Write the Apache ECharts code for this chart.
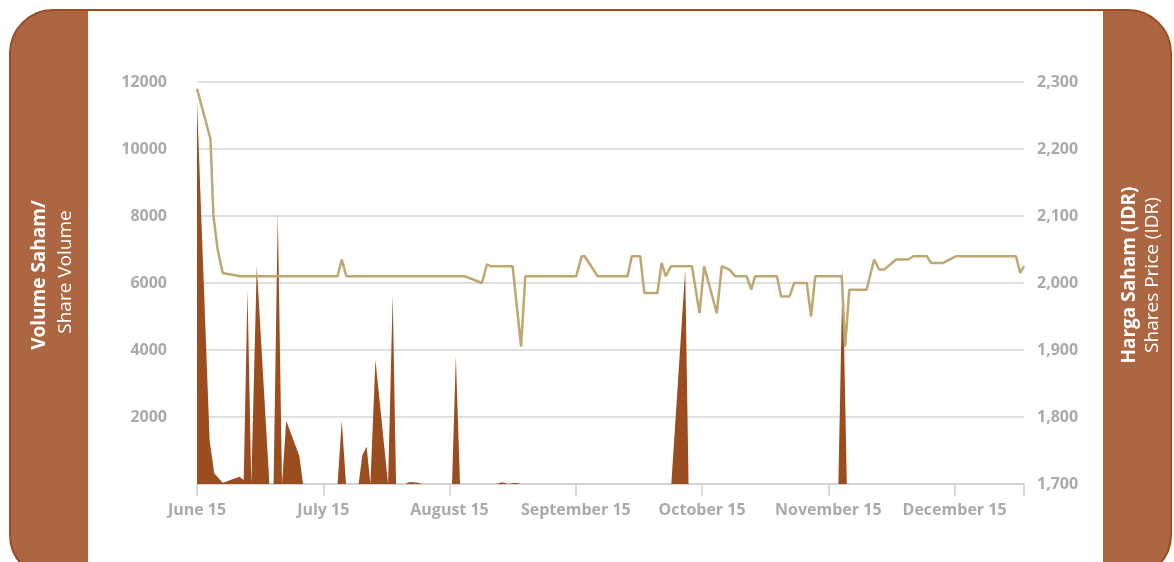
<!DOCTYPE html>
<html>
<head>
<meta charset="utf-8">
<script src="https://cdn.jsdelivr.net/npm/echarts@6/dist/echarts.min.js"></script>
<style>
  html, body { margin: 0; padding: 0; width: 1174px; height: 562px; overflow: hidden; background: #fff; }
  #frame {
    position: absolute; left: 9px; top: 9px; width: 1163px; height: 570px;
    box-sizing: border-box; border: 2px solid #9d4b20; border-radius: 44px; background: #ac6641;
  }
  #inner { position: absolute; left: 88px; top: 11px; width: 1015px; height: 560px; background: #fff; }
  #chart { position: absolute; left: 0; top: 0; width: 1174px; height: 562px; }
</style>
</head>
<body>
<div id="frame"></div>
<div id="inner"></div>
<div id="chart"></div>
<script>
// posisi hari (30 hari per bulan, 0 = June 15)
const xTickLabels = ['June 15', 'July 15', 'August 15', 'September 15', 'October 15', 'November 15', 'December 15'];

// volume saham
const volumeDays = [0, 3, 4.1, 6.1, 10.1, 11.1, 12, 12.9, 13.1, 14.2, 17.2, 18.2, 19.2, 20.2, 21.2, 24.3, 25.2,
  33.4, 34.4, 35.4, 38.4, 39.3, 40.3, 41.2, 42.4, 45.4, 46.5, 47.3, 49.5, 50.5, 52.5, 53.5,
  60.6, 61.5, 62.5, 71, 72.5, 74, 75.5, 77, 112.7, 116, 116.8, 152.4, 153.4, 154.4, 196.5];
const volumeValues = [11400, 1300, 320, 40, 220, 120, 5790, 0, 0, 6500, 0, 0, 8080, 0, 1890, 840, 0,
  0, 1890, 0, 0, 865, 1115, 0, 3700, 0, 5640, 0, 0, 60, 40, 0,
  0, 3800, 0, 0, 50, 0, 40, 0, 0, 6390, 0, 0, 6450, 0, 0];

// harga saham (IDR)
const priceDays = [0, 3.2, 3.9, 4.9, 6.1, 10.3, 33.4, 34.4, 35.5, 63.7, 67.7, 68.9, 69.8, 75, 77, 78, 90.1,
  91.4, 92.1, 95.2, 102.3, 103.3, 105.3, 106.3, 109.4, 110.4, 111.4, 112.6, 117.6, 119.4, 120.5,
  123.5, 124.7, 126.5, 127.9, 130.6, 131.7, 132.6, 137.8, 138.8, 140.8, 141.9, 144.9, 145.9, 146.9,
  153.2, 154, 155, 159.1, 160.9, 162.1, 163.3, 166.1, 169, 170.2, 173.4, 174.4, 177.3, 180.4,
  194.6, 195.6, 196.5];
const priceValues = [2290, 2215, 2100, 2050, 2015, 2010, 2010, 2035, 2010, 2010, 2000, 2028, 2025, 2025, 1905, 2010, 2010,
  2040, 2040, 2010, 2010, 2040, 2040, 1985, 1985, 2030, 2010, 2025, 2025, 1955, 2025,
  1955, 2025, 2020, 2010, 2010, 1990, 2010, 2010, 1980, 1980, 2000, 2000, 1950, 2010,
  2010, 1905, 1990, 1990, 2035, 2020, 2020, 2035, 2035, 2040, 2040, 2030, 2030, 2040,
  2040, 2015, 2025];

const volumeData = volumeDays.map((d, i) => [d, volumeValues[i]]);
const priceData = priceDays.map((d, i) => [d, priceValues[i]]);

const chart = echarts.init(document.getElementById('chart'));
const labelStyle = { color: '#aaaaaa', fontFamily: 'Open Sans', fontWeight: 'bold', fontSize: 16 };

chart.setOption({
  animation: false,
  grid: { left: 197, right: 150, top: 82, bottom: 78 },
  xAxis: {
    type: 'value',
    min: 0,
    max: 196.5,
    interval: 30,
    axisLine: { lineStyle: { color: '#cfcfcf', width: 1.5 } },
    axisTick: { show: true, length: 12, lineStyle: { color: '#cfcfcf', width: 1.5 } },
    splitLine: { show: false },
    axisLabel: Object.assign({
      margin: 18,
      showMaxLabel: true,
      formatter: v => (v % 30 === 0 ? xTickLabels[v / 30] || '' : '')
    }, labelStyle)
  },
  yAxis: [
    {
      type: 'value',
      min: 0,
      max: 12000,
      interval: 2000,
      axisLine: { show: false },
      axisTick: { show: false },
      splitLine: { lineStyle: { color: '#d4d4d4', width: 1.5 } },
      axisLabel: Object.assign({ margin: 30, formatter: v => (v === 0 ? '' : String(v)) }, labelStyle)
    },
    {
      type: 'value',
      min: 1700,
      max: 2300,
      interval: 100,
      axisLine: { show: false },
      axisTick: { show: false },
      splitLine: { show: false },
      axisLabel: Object.assign({ margin: 13, formatter: v => v.toLocaleString('en-US') }, labelStyle)
    }
  ],
  series: [
    {
      name: 'Harga Saham',
      type: 'line',
      yAxisIndex: 1,
      data: priceData,
      symbol: 'none',
      lineStyle: { color: '#bda872', width: 2.5 }
    },
    {
      name: 'Volume Saham',
      type: 'line',
      yAxisIndex: 0,
      data: volumeData,
      symbol: 'none',
      lineStyle: { width: 0 },
      itemStyle: { color: '#9c4d1f' },
      areaStyle: { color: '#9c4d1f', opacity: 1 }
    }
  ],
  graphic: [
    { type: 'text', x: 40, y: 275, rotation: Math.PI / 2,
      style: { text: 'Volume Saham/', fill: '#fff', font: 'bold 19px "Open Sans"', align: 'center', verticalAlign: 'middle' } },
    { type: 'text', x: 66, y: 272, rotation: Math.PI / 2,
      style: { text: 'Share Volume', fill: '#fff', font: '19px "Open Sans"', align: 'center', verticalAlign: 'middle' } },
    { type: 'text', x: 1130, y: 275, rotation: Math.PI / 2,
      style: { text: 'Harga Saham (IDR)', fill: '#fff', font: 'bold 19px "Open Sans"', align: 'center', verticalAlign: 'middle' } },
    { type: 'text', x: 1153, y: 275, rotation: Math.PI / 2,
      style: { text: 'Shares Price (IDR)', fill: '#fff', font: '19px "Open Sans"', align: 'center', verticalAlign: 'middle' } }
  ]
});
</script>
</body>
</html>
